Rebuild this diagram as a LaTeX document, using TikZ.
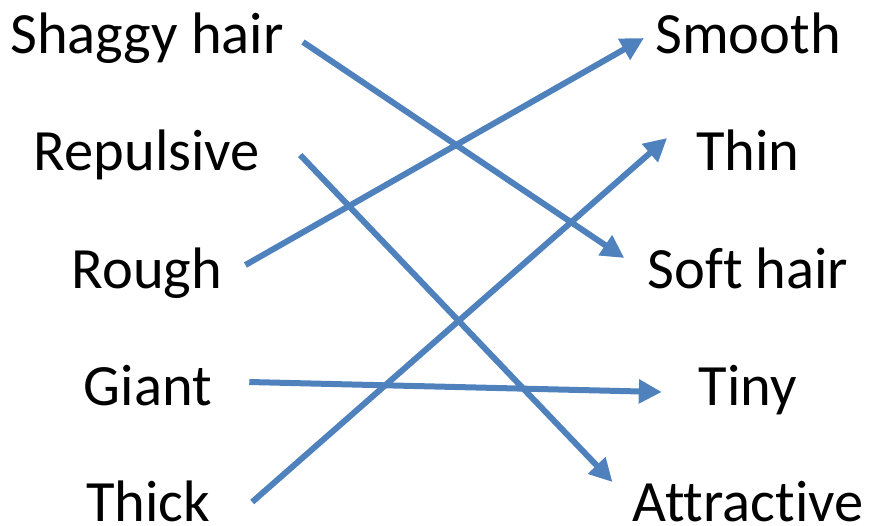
\documentclass[tikz,border=0pt]{standalone}
\usepackage{fontspec}
\setmainfont{Carlito}[Ligatures=NoCommon]
\usetikzlibrary{arrows.meta}
\definecolor{linkblue}{HTML}{4F81BD}
\begin{document}
\begin{tikzpicture}[x=1pt,y=-1pt,
  word/.style={inner sep=0pt,anchor=base,font=\fontsize{58.5}{60}\selectfont},
  link/.style={draw=linkblue,line width=6pt,-{Triangle[length=23pt,width=23pt]}}]
\useasboundingbox (0,0) rectangle (869,525);
% left column
\node[word] (shaggy)    at (147,53)    {Shaggy hair};
\node[word] (repulsive) at (147,170.5) {Repulsive};
\node[word] (rough)     at (147,288)   {Rough};
\node[word] (giant)     at (148,405.5) {Giant};
\node[word] (thick)     at (148,521)   {Thick};
% right column
\node[word] (smooth)     at (748,53)    {Smooth};
\node[word] (thin)       at (748,170.5) {Thin};
\node[word] (soft)       at (748,288)   {Soft hair};
\node[word] (tiny)       at (748,405.5) {Tiny};
\node[word] (attractive) at (748,521)   {Attractive};
% opposites
\draw[link] ([shift={(19,-11)}]shaggy.base east) -- ([shift={(-23,-30)}]soft.base west);
\draw[link] ([shift={(40,-15.5)}]repulsive.base east) -- ([shift={(-20,-39)}]attractive.base west);
\draw[link] ([shift={(23,-23)}]rough.base east) -- ([shift={(-11,-15)}]smooth.base west);
\draw[link] ([shift={(37,-23.5)}]giant.base east) -- ([shift={(-37,-13.5)}]tiny.base west);
\draw[link] ([shift={(42,-19)}]thick.base east) -- ([shift={(-29,-32.5)}]thin.base west);
\end{tikzpicture}
\end{document}
